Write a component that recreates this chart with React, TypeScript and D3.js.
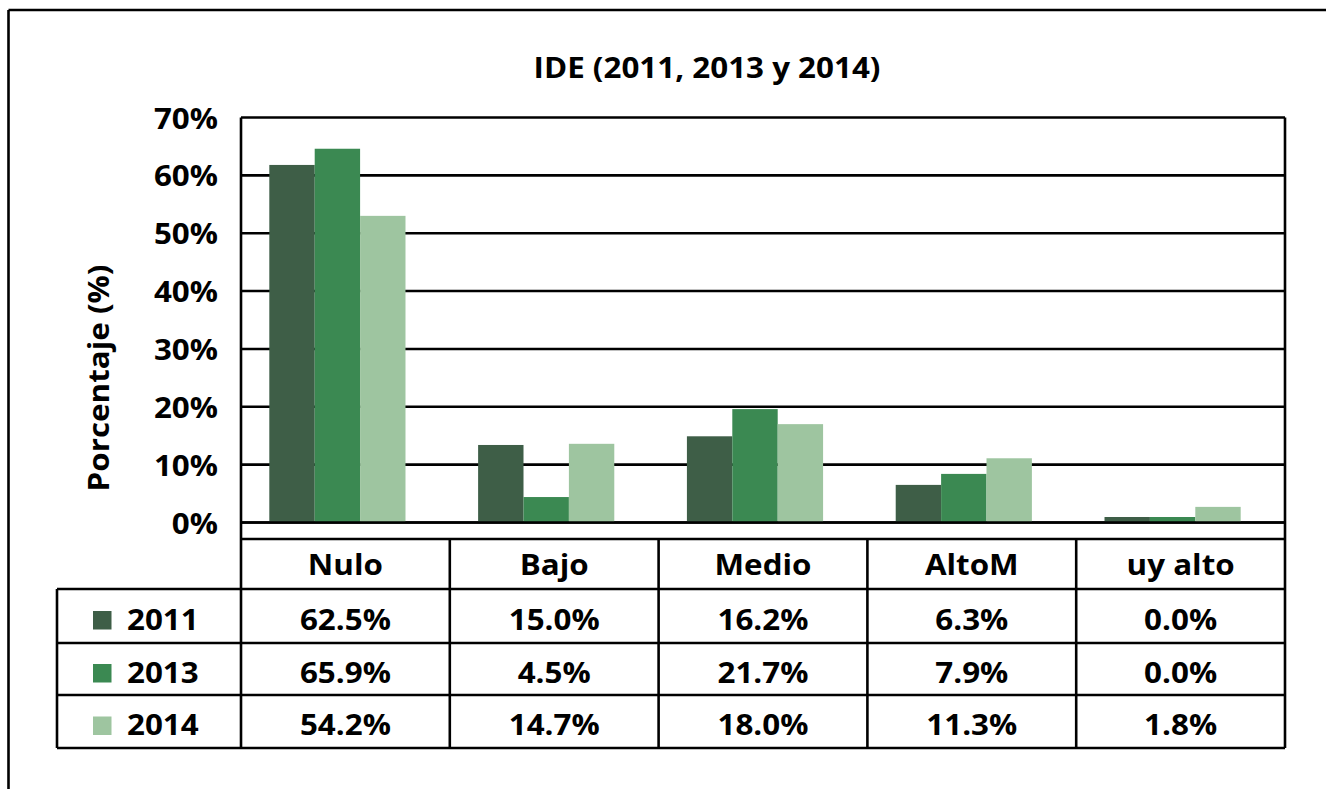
import React from "react";
import * as d3 from "d3";

const categories = ["Nulo", "Bajo", "Medio", "AltoM", "uy alto"];
const years = ["2011", "2013", "2014"];
const colors = ["#3e5e47", "#3b8952", "#9ec5a0"];

// bar heights as drawn in the picture (%)
const values2011 = [61.8, 13.4, 14.9, 6.5, 0.95];
const values2013 = [64.6, 4.4, 19.6, 8.4, 0.95];
const values2014 = [53.0, 13.6, 17.0, 11.1, 2.7];

// data-table labels as printed
const labels2011 = ["62.5%", "15.0%", "16.2%", "6.3%", "0.0%"];
const labels2013 = ["65.9%", "4.5%", "21.7%", "7.9%", "0.0%"];
const labels2014 = ["54.2%", "14.7%", "18.0%", "11.3%", "1.8%"];

const yTicks = [0, 10, 20, 30, 40, 50, 60, 70];

const W = 1326;
const H = 789;
const FONT = "'Open Sans', Lato, sans-serif";
const SX = 1.12;
const FS = 28;

function T(props: {
  x: number;
  y: number;
  anchor?: "start" | "middle" | "end";
  rotate?: number;
  children: React.ReactNode;
}) {
  const { x, y, anchor = "start", rotate = 0, children } = props;
  return (
    <text
      transform={`translate(${x},${y}) rotate(${rotate}) scale(${SX},1)`}
      textAnchor={anchor}
      fontSize={FS}
      fill="#000"
    >
      {children}
    </text>
  );
}

export default function App() {
  const series = [values2011, values2013, values2014];
  const labels = [labels2011, labels2013, labels2014];

  const plotL = 241;
  const plotR = 1285;
  const plotT = 117.5;
  const plotB = 522.5;

  const y = d3.scaleLinear().domain([0, 70]).range([plotB, plotT]);
  const x0 = d3.scaleBand().domain(categories).range([plotL - 8, plotR - 8]);
  const x1 = d3
    .scaleBand()
    .domain(years)
    .range([0, x0.bandwidth()])
    .paddingInner(0)
    .paddingOuter(0.8);
  const tx = d3.scaleBand().domain(categories).range([plotL, plotR]);

  const tableTop = 539;
  const rowEdges = [539, 589, 643, 695, 748];
  const legendL = 57;
  const lw = 2.6;

  return (
    <svg
      width={W}
      height={H}
      style={{ position: "absolute", left: 0, top: 0, background: "#fff" }}
      fontFamily={FONT}
      fontWeight={700}
    >
      {/* outer frame */}
      <line x1={8.5} y1={10} x2={W} y2={10} stroke="#000" strokeWidth={2.6} />
      <line x1={8.5} y1={10} x2={8.5} y2={H} stroke="#000" strokeWidth={2.6} />

      {/* title */}
      <T x={707} y={78} anchor="middle">
        IDE (2011, 2013 y 2014)
      </T>

      {/* y axis label */}
      <T x={109} y={378} anchor="middle" rotate={-90}>
        Porcentaje (%)
      </T>

      {/* gridlines */}
      {yTicks.map((t) => (
        <line
          key={"g" + t}
          x1={plotL}
          x2={plotR}
          y1={y(t)}
          y2={y(t)}
          stroke="#000"
          strokeWidth={lw}
        />
      ))}

      {/* y tick labels */}
      {yTicks.map((t) => (
        <T key={"t" + t} x={218} y={y(t) + 11} anchor="end">
          {t}%
        </T>
      ))}

      {/* bars */}
      {categories.map((c, ci) => (
        <g key={c} transform={`translate(${x0(c)},0)`}>
          {years.map((yr, si) => (
            <rect
              key={yr}
              x={x1(yr)}
              y={y(series[si][ci])}
              width={x1.bandwidth()}
              height={plotB - y(series[si][ci])}
              fill={colors[si]}
            />
          ))}
        </g>
      ))}

      {/* re-draw baseline over bars */}
      <line x1={plotL} x2={plotR} y1={plotB} y2={plotB} stroke="#000" strokeWidth={lw} />

      {/* plot verticals continuing into table */}
      <line x1={plotL} x2={plotL} y1={plotT} y2={rowEdges[4]} stroke="#000" strokeWidth={lw} />
      <line x1={plotR} x2={plotR} y1={plotT} y2={rowEdges[4]} stroke="#000" strokeWidth={lw} />

      {/* table */}
      <line x1={plotL} x2={plotR} y1={tableTop} y2={tableTop} stroke="#000" strokeWidth={lw} />
      {rowEdges.slice(1).map((r) => (
        <line key={"r" + r} x1={legendL} x2={plotR} y1={r} y2={r} stroke="#000" strokeWidth={lw} />
      ))}
      <line x1={legendL} x2={legendL} y1={rowEdges[1]} y2={rowEdges[4]} stroke="#000" strokeWidth={lw} />
      {categories.slice(1).map((c) => (
        <line
          key={"v" + c}
          x1={tx(c)}
          x2={tx(c)}
          y1={tableTop}
          y2={rowEdges[4]}
          stroke="#000"
          strokeWidth={lw}
        />
      ))}

      {/* header */}
      {categories.map((c) => (
        <T
          key={"h" + c}
          x={(tx(c) as number) + tx.bandwidth() / 2}
          y={(rowEdges[0] + rowEdges[1]) / 2 + 11}
          anchor="middle"
        >
          {c}
        </T>
      ))}

      {/* rows */}
      {years.map((yr, si) => {
        const cy = (rowEdges[si + 1] + rowEdges[si + 2]) / 2;
        return (
          <g key={"row" + yr}>
            <rect x={93} y={cy - 5} width={18.5} height={18.5} fill={colors[si]} />
            <T x={127} y={cy + 13.5}>
              {yr}
            </T>
            {categories.map((c, ci) => (
              <T
                key={c}
                x={(tx(c) as number) + tx.bandwidth() / 2}
                y={cy + 13.5}
                anchor="middle"
              >
                {labels[si][ci]}
              </T>
            ))}
          </g>
        );
      })}
    </svg>
  );
}
